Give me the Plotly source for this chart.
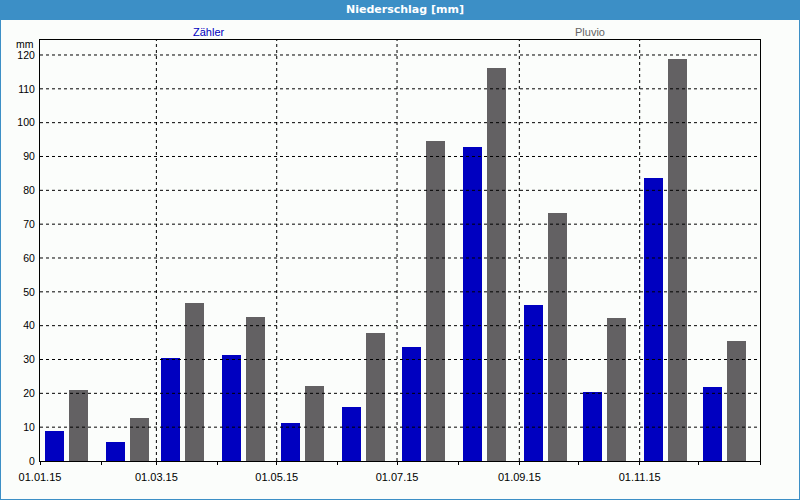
import plotly.graph_objects as go

months = ["2015-01-01", "2015-02-01", "2015-03-01", "2015-04-01", "2015-05-01", "2015-06-01",
          "2015-07-01", "2015-08-01", "2015-09-01", "2015-10-01", "2015-11-01", "2015-12-01"]
zaehler = [8.9, 5.6, 30.4, 31.3, 11.2, 16.0, 33.7, 92.8, 46.1, 20.4, 83.6, 21.9]
pluvio = [21.0, 12.7, 46.7, 42.6, 22.2, 37.8, 94.7, 116.2, 73.3, 42.3, 118.8, 35.5]

tick_dates = ["2015-01-01", "2015-03-01", "2015-05-01", "2015-07-01", "2015-09-01", "2015-11-01"]
tick_labels = ["01.01.15", "01.03.15", "01.05.15", "01.07.15", "01.09.15", "01.11.15"]
y_ticks = [0, 10, 20, 30, 40, 50, 60, 70, 80, 90, 100, 110, 120]

W, H = 800, 500
L, R, T, B = 40, 40, 40, 39
PW, PH = W - L - R, H - T - B
DAY = 86400000.0
px_day = PW / 365.0

def px_x(p):
    return (p - L) / PW

def px_y(p):
    return (H - B - p) / PH

BLUE = "#0000c0"
GRAY = "#636163"
BG = "#fbfdfb"
FRAME = "#3c8fc6"

fig = go.Figure()
fig.add_trace(go.Bar(x=months, y=zaehler, name="Zähler", marker_color=BLUE, marker_line_width=0,
                     offset=4.6 / px_day * DAY, width=19 / px_day * DAY))
fig.add_trace(go.Bar(x=months, y=pluvio, name="Pluvio", marker_color=GRAY, marker_line_width=0,
                     offset=28.6 / px_day * DAY, width=19 / px_day * DAY))

shapes = []
# gridlines above bars
for d in tick_dates[1:]:
    shapes.append(dict(type="line", xref="x", yref="paper", x0=d, x1=d, y0=0, y1=1,
                       line=dict(color="black", width=1, dash="3px,3px"), layer="above"))
for v in y_ticks[1:]:
    shapes.append(dict(type="line", xref="paper", yref="y", x0=0, x1=1, y0=v, y1=v,
                       line=dict(color="black", width=1, dash="3px,3px"), layer="above"))
# title bar
shapes.append(dict(type="rect", xref="paper", yref="paper", x0=px_x(0), x1=px_x(W),
                   y0=px_y(20), y1=px_y(0), fillcolor=FRAME, line_width=0, layer="below"))
# outer border
shapes.append(dict(type="rect", xref="paper", yref="paper", x0=px_x(0), x1=px_x(W),
                   y0=px_y(H), y1=px_y(0), fillcolor="rgba(0,0,0,0)",
                   line=dict(color=FRAME, width=2), layer="above"))

annotations = [
    dict(text="<b>Niederschlag [mm]</b>", xref="paper", yref="paper", x=px_x(405), y=px_y(10),
         showarrow=False, font=dict(family="DejaVu Sans", size=11, color="white"),
         xanchor="center", yanchor="middle"),
    dict(text="Zähler", xref="paper", yref="paper", x=px_x(209), y=px_y(32),
         showarrow=False, font=dict(family="Liberation Sans", size=11, color=BLUE),
         xanchor="center", yanchor="middle"),
    dict(text="Pluvio", xref="paper", yref="paper", x=px_x(590), y=px_y(32),
         showarrow=False, font=dict(family="Liberation Sans", size=11, color="#646464"),
         xanchor="center", yanchor="middle"),
    dict(text="mm", xref="paper", yref="paper", x=px_x(36), y=px_y(44),
         showarrow=False, font=dict(family="Liberation Sans", size=10.5, color="black"),
         xanchor="right", yanchor="middle"),
]

fig.update_layout(
    width=W, height=H,
    margin=dict(l=L, r=R, t=T, b=B, pad=0),
    paper_bgcolor=BG, plot_bgcolor=BG,
    barmode="overlay", showlegend=False, bargap=0,
    shapes=shapes, annotations=annotations,
    font=dict(family="Liberation Sans", size=11, color="black"),
)
fig.update_xaxes(
    type="date", range=["2015-01-01", "2016-01-01"],
    tickvals=tick_dates, ticktext=tick_labels,
    showgrid=False, zeroline=False,
    showline=True, mirror=True, linecolor="black", linewidth=1,
    ticks="outside", ticklen=3, tickcolor="black", ticklabelstandoff=3,
    minor=dict(dtick="M1", ticks="outside", ticklen=3, tickcolor="black", showgrid=False),
    tickfont=dict(family="Liberation Sans", size=11, color="black"),
)
fig.update_yaxes(
    range=[0, 124.43], tickvals=y_ticks,
    showgrid=False, zeroline=False,
    showline=True, mirror=True, linecolor="black", linewidth=1,
    ticks="outside", ticklen=2, tickcolor=BG,
    tickfont=dict(family="Liberation Sans", size=10.5, color="black"),
)

fig.write_html("out.html", config={"displayModeBar": False},
               post_script="document.body.style.margin='0';")
